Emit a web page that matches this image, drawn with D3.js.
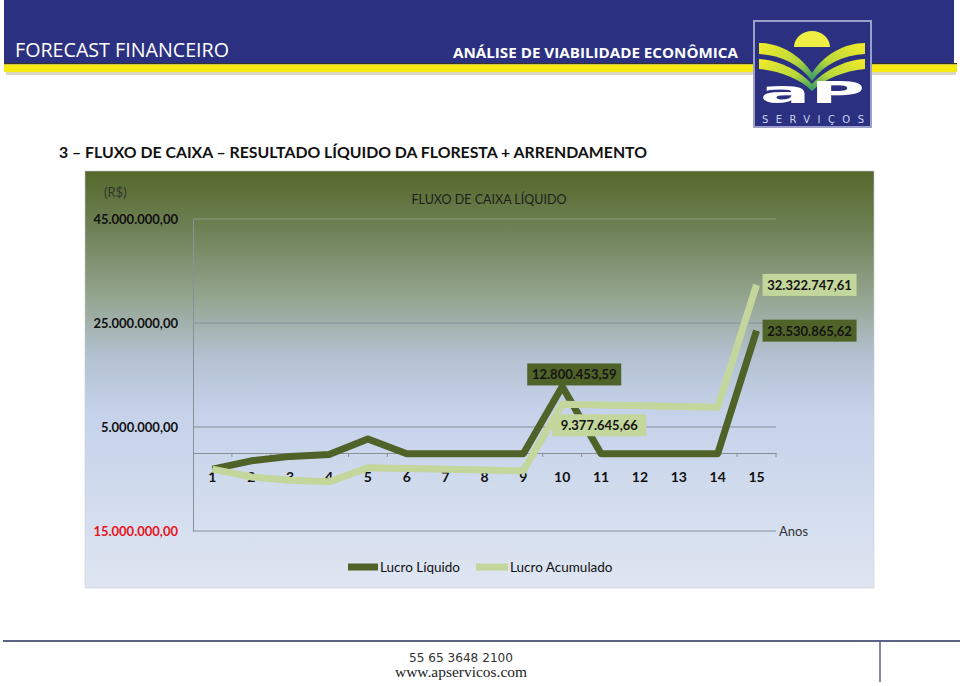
<!DOCTYPE html>
<html>
<head>
<meta charset="utf-8">
<script src="https://cdnjs.cloudflare.com/ajax/libs/d3/7.8.5/d3.min.js"></script>
<style>
  body { margin: 0; background: #fff; }
  svg { display: block; }
</style>
</head>
<body>
<div id="chart"></div>
<script>
// dados
const anos = [1, 2, 3, 4, 5, 6, 7, 8, 9, 10, 11, 12, 13, 14, 15];
const lucroLiquido = [-3100000, -1500000, -650000, -300000, 2700000, -140000, -140000, -140000, -150000,
                      12800453.59, -146000, -146000, -146500, -146500, 23530865.62];
const lucroAcumulado = [-3100000, -4600000, -5250000, -5550000, -2850000, -2990000, -3130000, -3270000, -3420000,
                        9377645.66, 9231000, 9085000, 8938000, 8792000, 32322747.61];
const yTicks = [45000000, 25000000, 5000000, -15000000];
const seriesNomes = ["Lucro Líquido", "Lucro Acumulado"];

const W = 960, H = 686;
const corEscura = "#4f6228", corClara = "#c3d69b";
const fonte = "Lato, 'Open Sans', sans-serif";

const br = d3.formatLocale({ decimal: ",", thousands: ".", grouping: [3], currency: ["R$", ""] });
const fmt = br.format(",.2f");

const svg = d3.select("#chart").append("svg")
    .attr("width", W)
    .attr("height", H);

const defs = svg.append("defs");

    // fundo do grafico
const grad = defs.append("linearGradient")
    .attr("id", "fundo")
    .attr("x1", 0).attr("y1", 0).attr("x2", 0).attr("y2", 1);
[["0", "#55682a"], ["0.14", "#6e8156"], ["0.3", "#93a48e"], ["0.45", "#b4c2d2"],
 ["0.58", "#c5d2ea"], ["1", "#dfe6f2"]].forEach(s => {
    grad.append("stop").attr("offset", s[0]).attr("stop-color", s[1]);
});

const folha = defs.append("linearGradient")
    .attr("id", "folha")
    .attr("x1", 0).attr("y1", 0).attr("x2", 1).attr("y2", 1);
folha.append("stop").attr("offset", "0").attr("stop-color", "#f3ec2a");
folha.append("stop").attr("offset", "0.6").attr("stop-color", "#b9d83a");
folha.append("stop").attr("offset", "1").attr("stop-color", "#2f9a6a");

// ---------- cabecalho ----------
svg.append("rect").attr("x", 4).attr("y", 0).attr("width", 950).attr("height", 64).attr("fill", "#2c3080");
svg.append("rect").attr("x", 4).attr("y", 63).attr("width", 953).attr("height", 1.5).attr("fill", "#3a3320");
svg.append("rect").attr("x", 4).attr("y", 64.5).attr("width", 953).attr("height", 7.5).attr("fill", "#f6ea10");
svg.append("rect").attr("x", 6).attr("y", 72).attr("width", 950).attr("height", 3).attr("fill", "#c9c6a8").attr("opacity", 0.7);

svg.append("text")
    .attr("x", 15).attr("y", 57)
    .attr("font-family", "'Open Sans', sans-serif")
    .attr("font-size", 20)
    .attr("fill", "#fff")
    .attr("textLength", 214).attr("lengthAdjust", "spacingAndGlyphs")
    .text("FORECAST FINANCEIRO");

svg.append("text")
    .attr("x", 453).attr("y", 58)
    .attr("font-family", "'Open Sans', sans-serif")
    .attr("font-weight", "bold")
    .attr("font-size", 14)
    .attr("fill", "#fff")
    .attr("textLength", 285).attr("lengthAdjust", "spacingAndGlyphs")
    .text("ANÁLISE DE VIABILIDADE ECONÔMICA");

    // logo
const logo = svg.append("g").attr("transform", "translate(754,21)");
logo.append("rect").attr("width", 117).attr("height", 106)
    .attr("fill", "#2c3080").attr("stroke", "#9aa0c8").attr("stroke-width", 2);
logo.append("path")
    .attr("d", "M40,26 A18,16 0 0 1 76,26 Z")
    .attr("fill", "#eeee44");
const folhas = [
    "M5,22 C26,22 46,34 58,52 L58,60 C46,43 26,34 5,33 Z",
    "M5,38 C26,39 46,50 58,63 L58,70 C46,58 26,50 5,48 Z"
];
folhas.forEach(p => {
    logo.append("path").attr("d", p).attr("fill", "url(#folha)");
    logo.append("path").attr("d", p).attr("fill", "url(#folha)").attr("transform", "translate(116,0) scale(-1,1)");
});
logo.append("text")
    .attr("x", 6).attr("y", 82)
    .attr("font-family", "'DejaVu Sans', sans-serif")
    .attr("font-weight", "bold").attr("font-size", 31)
    .attr("fill", "#fff")
    .attr("textLength", 105).attr("lengthAdjust", "spacingAndGlyphs")
    .text("aP");
logo.append("text")
    .attr("x", 8).attr("y", 102)
    .attr("font-family", "'DejaVu Sans', sans-serif")
    .attr("font-size", 10)
    .attr("fill", "#c8d4f0")
    .attr("textLength", 102).attr("lengthAdjust", "spacing")
    .text("SERVIÇOS");

    // titulo
svg.append("text")
    .attr("x", 59).attr("y", 158)
    .attr("font-family", fonte)
    .attr("font-weight", "bold")
    .attr("font-size", 16)
    .attr("fill", "#111")
    .attr("textLength", 588).attr("lengthAdjust", "spacingAndGlyphs")
    .text("3 – FLUXO DE CAIXA – RESULTADO LÍQUIDO DA FLORESTA + ARRENDAMENTO");

// ---------- grafico ----------
svg.append("rect")
    .attr("x", 85).attr("y", 171).attr("width", 789).attr("height", 417)
    .attr("fill", "url(#fundo)")
    .attr("stroke", "#c8ccd4").attr("stroke-width", 0.6);

const x = d3.scaleBand().domain(anos).range([193, 776]);
const y = d3.scaleLinear().domain([-15000000, 45000000]).range([531, 219]);
const cx = d => x(d) + x.bandwidth() / 2;

    // linhas de grade
svg.append("g")
    .selectAll("line")
    .data(yTicks.filter(v => v > -15000000))
    .enter()
    .append("line")
    .attr("x1", 193).attr("x2", 776)
    .attr("y1", d => y(d)).attr("y2", d => y(d))
    .attr("stroke", (d, i) => i === 0 ? "#8e9c82" : "#8a8f98")
    .attr("stroke-width", 1);

    // eixo y
const eixoY = svg.append("g")
    .attr("transform", "translate(193,0)")
    .call(d3.axisLeft(y).tickValues(yTicks).tickSize(0).tickPadding(15)
        .tickFormat(v => fmt(Math.abs(v))));
eixoY.select(".domain").attr("stroke", "#8a8f98");
eixoY.selectAll("text")
    .attr("font-family", fonte)
    .attr("font-weight", "bold")
    .attr("font-size", 13)
    .attr("fill", d => d < 0 ? "#e8141c" : "#111");

    // linha inferior
svg.append("line")
    .attr("x1", 193).attr("x2", 776)
    .attr("y1", y(-15000000)).attr("y2", y(-15000000))
    .attr("stroke", "#8a8f98");

    // eixo das categorias em zero
const eixoX = svg.append("g")
    .attr("transform", `translate(0,${y(0)})`)
    .call(d3.axisBottom(x).tickSize(0).tickFormat(""));
eixoX.select(".domain").attr("stroke", "#8a8f98");
eixoX.selectAll(".marca")
    .data(anos.slice(1).concat(["fim"]))
    .enter()
    .append("line")
    .attr("class", "marca")
    .attr("x1", d => d === "fim" ? 776 : x(d))
    .attr("x2", d => d === "fim" ? 776 : x(d))
    .attr("y1", 0).attr("y2", 4)
    .attr("stroke", "#8a8f98");

svg.append("g")
    .selectAll("text")
    .data(anos)
    .enter()
    .append("text")
    .attr("x", d => cx(d))
    .attr("y", 482)
    .attr("text-anchor", "middle")
    .attr("font-family", fonte)
    .attr("font-weight", "bold")
    .attr("font-size", 14)
    .attr("fill", "#111")
    .text(d => d);

    // series
const linha = d3.line()
    .x((d, i) => cx(anos[i]))
    .y(d => y(d));

svg.append("path")
    .datum(lucroLiquido)
    .attr("d", linha)
    .attr("fill", "none")
    .attr("stroke", corEscura)
    .attr("stroke-width", 7)
    .attr("stroke-linejoin", "round");

svg.append("path")
    .datum(lucroAcumulado)
    .attr("d", linha)
    .attr("fill", "none")
    .attr("stroke", corClara)
    .attr("stroke-width", 7)
    .attr("stroke-linejoin", "round");

    // rotulos de dados
const rotulos = [
    { v: lucroLiquido, i: 9, fill: corEscura, dx: 12, dy: -12 },
    { v: lucroAcumulado, i: 9, fill: corClara, dx: 37, dy: 21 },
    { v: lucroAcumulado, i: 14, fill: corClara, dx: 53, dy: 0 },
    { v: lucroLiquido, i: 14, fill: corEscura, dx: 53, dy: 0 }
];
rotulos.forEach(r => {
    const px = cx(anos[r.i]) + r.dx;
    const py = y(r.v[r.i]) + r.dy;
    const g = svg.append("g").attr("transform", `translate(${px},${py})`);
    g.append("rect")
        .attr("x", -47).attr("y", -11).attr("width", 94).attr("height", 22)
        .attr("fill", r.fill);
    g.append("text")
        .attr("y", 5)
        .attr("text-anchor", "middle")
        .attr("font-family", fonte)
        .attr("font-weight", "bold")
        .attr("font-size", 13)
        .attr("fill", "#141414")
        .text(fmt(r.v[r.i]));
});

    // textos do grafico
svg.append("text")
    .attr("x", 104).attr("y", 197)
    .attr("font-family", fonte)
    .attr("font-size", 13)
    .attr("fill", "#333")
    .text("(R$)");

svg.append("text")
    .attr("x", 489).attr("y", 204)
    .attr("text-anchor", "middle")
    .attr("font-family", fonte)
    .attr("font-size", 13)
    .attr("fill", "#1e1e1e")
    .attr("textLength", 155).attr("lengthAdjust", "spacingAndGlyphs")
    .text("FLUXO DE CAIXA LÍQUIDO");

svg.append("text")
    .attr("x", 779).attr("y", 536)
    .attr("font-family", fonte)
    .attr("font-size", 13)
    .attr("fill", "#333")
    .text("Anos");

    // legenda
const legenda = svg.append("g").attr("class", "legend");
const itens = [
    { nome: seriesNomes[0], cor: corEscura, x0: 348, x1: 378, tx: 380 },
    { nome: seriesNomes[1], cor: corClara, x0: 476, x1: 508, tx: 510 }
];
itens.forEach(it => {
    legenda.append("line")
        .attr("x1", it.x0).attr("x2", it.x1)
        .attr("y1", 567).attr("y2", 567)
        .attr("stroke", it.cor).attr("stroke-width", 7);
    legenda.append("text")
        .attr("x", it.tx).attr("y", 572)
        .attr("font-family", fonte)
        .attr("font-size", 13.5)
        .attr("fill", "#111")
        .text(it.nome);
});

// ---------- rodape ----------
svg.append("line")
    .attr("x1", 3).attr("x2", 960)
    .attr("y1", 641).attr("y2", 641)
    .attr("stroke", "#5d6182").attr("stroke-width", 2);
svg.append("line")
    .attr("x1", 880).attr("x2", 880)
    .attr("y1", 641).attr("y2", 682)
    .attr("stroke", "#5d6182").attr("stroke-width", 1.5);

svg.append("text")
    .attr("x", 461).attr("y", 662)
    .attr("text-anchor", "middle")
    .attr("font-family", "'Liberation Sans Narrow', 'DejaVu Sans Condensed', sans-serif")
    .attr("font-size", 13)
    .attr("fill", "#333")
    .attr("textLength", 104).attr("lengthAdjust", "spacingAndGlyphs")
    .text("55 65 3648 2100");

svg.append("text")
    .attr("x", 461).attr("y", 677)
    .attr("text-anchor", "middle")
    .attr("font-family", "'Liberation Serif', serif")
    .attr("font-size", 14)
    .attr("fill", "#222")
    .attr("textLength", 132).attr("lengthAdjust", "spacingAndGlyphs")
    .text("www.apservicos.com");
</script>
</body>
</html>
